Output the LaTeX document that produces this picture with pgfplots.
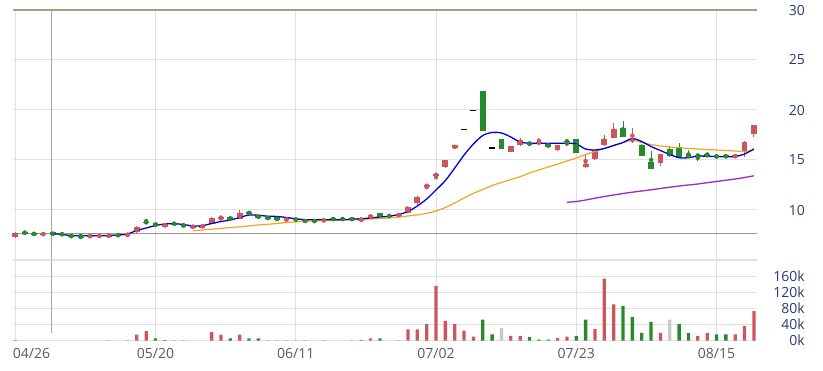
\documentclass[border=0pt]{standalone}
\usepackage{pgfplots}
\pgfplotsset{compat=1.18}
\usepackage{pgfplotstable}
\usepackage{fontspec}
\setmainfont{Open Sans}
\definecolor{cred}{RGB}{205,85,92}
\definecolor{cgreen}{RGB}{40,138,40}
\definecolor{cgray}{RGB}{200,200,200}
\definecolor{tinyc}{RGB}{170,170,170}
\definecolor{gridc}{RGB}{226,226,226}
\definecolor{topc}{RGB}{165,160,130}
\definecolor{refc}{RGB}{150,150,150}
\definecolor{crossc}{RGB}{165,165,165}
\definecolor{ylab}{RGB}{40,60,110}
\definecolor{xlab}{RGB}{90,90,90}
\definecolor{maorange}{RGB}{245,165,35}
\definecolor{mapurple}{RGB}{155,40,205}
\definecolor{mablue}{RGB}{0,0,220}

% candles: index open high low close
\pgfplotstableread{
i o h l c
0 7.25 7.75 7.22 7.73
3 7.53 7.67 7.52 7.65
8 7.28 7.50 7.27 7.48
9 7.40 7.44 7.39 7.43
10 7.42 7.46 7.41 7.45
12 7.50 7.56 7.49 7.55
13 7.75 8.35 7.73 8.33
16 8.33 8.68 8.32 8.58
19 8.30 8.36 8.29 8.35
20 8.22 8.55 8.20 8.52
21 8.63 9.25 8.60 9.22
22 9.10 9.50 8.92 9.28
24 9.10 9.97 9.08 9.70
29 8.95 9.18 8.93 9.15
33 8.85 9.12 8.82 9.07
37 8.93 9.18 8.90 9.12
38 9.22 9.50 9.20 9.48
41 9.45 9.60 9.43 9.50
42 9.67 10.35 9.65 10.33
43 10.67 11.35 10.50 11.33
44 12.35 12.50 12.07 12.50
45 13.45 13.60 13.00 13.60
46 14.25 15.00 14.20 15.00
47 16.15 16.50 16.13 16.47
53 15.80 16.42 15.78 16.40
54 16.45 17.15 16.40 17.00
56 16.67 17.17 16.65 16.75
58 15.95 16.52 15.93 16.50
61 14.30 15.50 14.27 14.63
62 15.05 15.97 15.03 15.95
63 16.45 17.50 16.40 17.07
64 17.17 18.73 17.15 18.10
66 16.90 18.17 16.70 17.05
69 14.70 15.62 14.40 15.60
77 15.27 15.52 15.25 15.50
78 15.83 16.85 15.33 16.83
79 17.60 18.47 17.33 18.45
}\redc

\pgfplotstableread{
i o h l c
1 7.80 7.82 7.63 7.65
2 7.70 7.72 7.50 7.52
4 7.75 7.77 7.48 7.50
5 7.60 7.62 7.53 7.55
6 7.52 7.55 7.23 7.25
7 7.32 7.55 7.26 7.27
11 7.50 7.51 7.46 7.47
14 8.80 9.05 8.72 8.73
15 8.72 8.75 8.33 8.35
17 8.65 8.66 8.58 8.60
18 8.63 8.65 8.26 8.28
23 9.33 9.35 8.95 8.98
25 9.77 9.90 9.55 9.60
26 9.50 9.52 9.15 9.18
27 9.32 9.35 9.05 9.08
28 9.25 9.27 8.95 8.98
30 9.10 9.12 8.98 9.00
31 9.00 9.02 8.78 8.80
32 8.92 8.95 8.85 8.87
34 9.17 9.18 9.00 9.02
35 9.17 9.20 9.00 9.02
36 9.20 9.25 8.95 8.97
39 9.65 9.68 9.28 9.30
40 9.42 9.44 9.36 9.38
50 21.85 21.85 17.85 17.85
52 17.07 17.10 16.08 16.10
55 16.83 16.85 16.42 16.45
57 16.60 16.62 16.28 16.30
59 16.93 16.95 16.35 16.83
60 17.07 17.10 15.70 15.73
65 18.20 18.85 17.28 17.30
67 16.50 16.55 15.35 15.38
68 14.80 15.93 14.08 14.12
70 16.07 16.35 15.30 15.40
71 16.30 16.73 15.25 15.27
72 15.55 15.95 15.17 15.20
73 15.50 15.52 14.93 15.42
74 15.57 15.75 15.33 15.35
75 15.45 15.50 15.22 15.25
76 15.47 15.50 15.25 15.27
}\greenc

% volume
\pgfplotstableread{
i v
0 1200
13 15000
14 24000
21 21000
22 15000
24 15000
37 2000
38 6000
42 28000
43 28000
44 41000
45 136000
46 49000
47 41000
48 25000
49 10000
53 12000
54 12000
58 6500
59 10000
62 28500
63 154000
64 90000
69 19600
73 12000
74 18800
77 15500
78 36700
79 73500
}\redv

\pgfplotstableread{
i v
15 6000
16 1500
23 6000
25 6000
26 6000
39 6000
50 52000
51 15500
55 9000
56 2500
57 2500
60 12000
61 52000
65 86500
66 59000
67 19600
68 46500
71 41000
72 18800
75 15500
76 15500
}\greenv

\pgfplotstableread{
i v
10 1200
12 1200
17 1500
18 1500
27 1500
28 1500
29 1500
30 1500
31 1500
33 1500
36 1500
41 1500
}\tinyv

\pgfplotstableread{
i v
52 32000
70 52000
}\grayv

\begin{document}
\begin{tikzpicture}
\useasboundingbox (0,0) rectangle (823pt,-371pt);

% ---------------- price panel ----------------
\begin{axis}[
  at={(13pt,-260pt)}, anchor=south west,
  scale only axis, width=744pt, height=250pt,
  xmin=-0.246, xmax=79.33, ymin=5, ymax=30,
  clip=false,
  axis line style={draw=none},
  major tick length=0pt,
  xtick={0,15,30,45,60,75}, xticklabels={},
  xticklabel style={text opacity=0, opacity=0},
  ytick={10,15,20,25,30}, yticklabels={10,15,20,25,30},
  yticklabel pos=right,
  yticklabel style={anchor=east, inner sep=0pt, xshift=48pt, text=ylab, font=\fontsize{14}{16}\selectfont},
  grid=major, major grid style={gridc, line width=1pt},
]
\draw[refc, line width=1pt] (axis cs:-0.246,7.67) -- (axis cs:79.33,7.67);
\draw[topc, line width=1.2pt] (rel axis cs:0,1) -- (rel axis cs:1,1);
\draw[crossc, line width=1.3pt] (axis cs:3.85,30) -- (axis cs:3.85,5);

% wicks
\addplot[cred, only marks, mark=none, forget plot, error bars/.cd, y dir=both, y explicit, error mark=none, error bar style={line width=1pt, cred}]
  table[x=i, y expr=(\thisrow{h}+\thisrow{l})/2, y error expr=(\thisrow{h}-\thisrow{l})/2] {\redc};
\addplot[cgreen, only marks, mark=none, forget plot, error bars/.cd, y dir=both, y explicit, error mark=none, error bar style={line width=1pt, cgreen}]
  table[x=i, y expr=(\thisrow{h}+\thisrow{l})/2, y error expr=(\thisrow{h}-\thisrow{l})/2] {\greenc};
% bodies
\addplot[cred, only marks, mark=none, forget plot, error bars/.cd, y dir=both, y explicit, error mark=none, error bar style={line width=5.8pt, cred}]
  table[x=i, y expr=(\thisrow{o}+\thisrow{c})/2, y error expr=abs(\thisrow{c}-\thisrow{o})/2] {\redc};
\addplot[cgreen, only marks, mark=none, forget plot, error bars/.cd, y dir=both, y explicit, error mark=none, error bar style={line width=5.8pt, cgreen}]
  table[x=i, y expr=(\thisrow{o}+\thisrow{c})/2, y error expr=abs(\thisrow{c}-\thisrow{o})/2] {\greenc};
% flat (limit) days
\addplot[black, only marks, mark=-, mark size=3pt, mark options={line width=1.4pt}] coordinates {(48,18.05) (49,19.95) (51,16.2)};

% moving averages
\addplot[mapurple, line width=1.3pt, smooth] coordinates {
(59,10.77)(60,10.85)(61,11.0)(62,11.18)(63,11.35)(64,11.5)(65,11.65)(66,11.78)(67,11.9)(68,12.02)(69,12.15)(70,12.28)(71,12.4)(72,12.5)(73,12.6)(74,12.73)(75,12.85)(76,12.98)(77,13.1)(78,13.25)(79,13.42)};
\addplot[maorange, line width=1.2pt, smooth] coordinates {
(19,7.92)(20,8.0)(21,8.08)(22,8.16)(23,8.24)(24,8.32)(25,8.4)(26,8.5)(27,8.57)(28,8.65)(29,8.75)(30,8.82)(31,8.87)(32,8.9)(33,8.93)(34,8.96)(35,8.99)(36,9.02)(37,9.05)(38,9.1)(39,9.15)(40,9.2)(41,9.3)(42,9.4)(43,9.52)(44,9.67)(45,9.9)(46,10.25)(47,10.7)(48,11.2)(49,11.67)(50,12.05)(51,12.45)(52,12.75)(53,13.05)(54,13.33)(55,13.7)(56,14.0)(57,14.3)(58,14.58)(59,14.9)(60,15.2)(61,15.55)(62,15.85)(63,16.15)(64,16.45)(65,16.75)(66,17.0)(67,16.75)(68,16.55)(69,16.4)(70,16.3)(71,16.22)(72,16.16)(73,16.1)(74,16.05)(75,16.0)(76,15.95)(77,15.9)(78,15.85)(79,16.0)};
\addplot[mablue, line width=1.3pt, smooth] coordinates {
(4,7.65)(5,7.55)(6,7.45)(7,7.42)(8,7.42)(9,7.42)(10,7.45)(11,7.5)(12,7.6)(13,7.95)(14,8.2)(15,8.45)(16,8.6)(17,8.63)(18,8.55)(19,8.4)(20,8.43)(21,8.65)(22,8.85)(23,9.0)(24,9.25)(25,9.5)(26,9.47)(27,9.38)(28,9.35)(29,9.25)(30,9.12)(31,9.03)(32,9.03)(33,9.03)(34,9.03)(35,9.03)(36,9.08)(37,9.13)(38,9.2)(39,9.3)(40,9.38)(41,9.55)(42,9.85)(43,10.4)(44,11.1)(45,12.0)(46,12.95)(47,14.2)(48,15.5)(49,16.6)(50,17.45)(51,17.75)(52,17.7)(53,17.3)(54,16.8)(55,16.67)(56,16.67)(57,16.67)(58,16.67)(59,16.67)(60,16.6)(61,16.1)(62,16.0)(63,16.15)(64,16.45)(65,16.75)(66,17.15)(67,16.85)(68,16.35)(69,15.95)(70,15.55)(71,15.23)(72,15.23)(73,15.38)(74,15.38)(75,15.33)(76,15.33)(77,15.35)(78,15.6)(79,16.1)};
\end{axis}

% ---------------- volume panel ----------------
\begin{axis}[
  at={(13pt,-340.7pt)}, anchor=south west,
  scale only axis, width=744pt, height=80.7pt,
  xmin=-0.246, xmax=79.33, ymin=0, ymax=200000,
  clip=false,
  axis line style={draw=none},
  major tick length=0pt,
  scaled y ticks=false,
  xtick={15,30,45,60,75}, xticklabels={05/20,06/11,07/02,07/23,08/15},
  extra x ticks={0}, extra x tick labels={04/26},
  extra x tick style={xticklabel style={anchor=north west, xshift=-2.6pt}},
  xticklabel style={anchor=north, inner sep=0pt, yshift=-7.3pt, text=xlab, font=\fontsize{14}{16}\selectfont},
  ytick={0,40000,80000,120000,160000}, yticklabels={0k,40k,80k,120k,160k},
  yticklabel pos=right,
  yticklabel style={anchor=east, inner sep=0pt, xshift=48pt, text=ylab, font=\fontsize{14}{16}\selectfont},
  grid=major, major grid style={gridc, line width=1pt},
]
\draw[gridc, line width=2.5pt] (rel axis cs:0,1) -- (rel axis cs:1,1);
\draw[crossc, line width=1.3pt] (axis cs:3.85,200000) -- (axis cs:3.85,19000);
\addplot[ybar, bar width=3.3pt, bar shift=0pt, fill=cred, draw=none] table[x=i, y=v] {\redv};
\addplot[ybar, bar width=3.3pt, bar shift=0pt, fill=cgreen, draw=none] table[x=i, y=v] {\greenv};
\addplot[ybar, bar width=3.3pt, bar shift=0pt, fill=cgray, draw=none] table[x=i, y=v] {\grayv};
\addplot[ybar, bar width=3.3pt, bar shift=0pt, fill=tinyc, draw=none] table[x=i, y=v] {\tinyv};
\end{axis}
\end{tikzpicture}
\end{document}
